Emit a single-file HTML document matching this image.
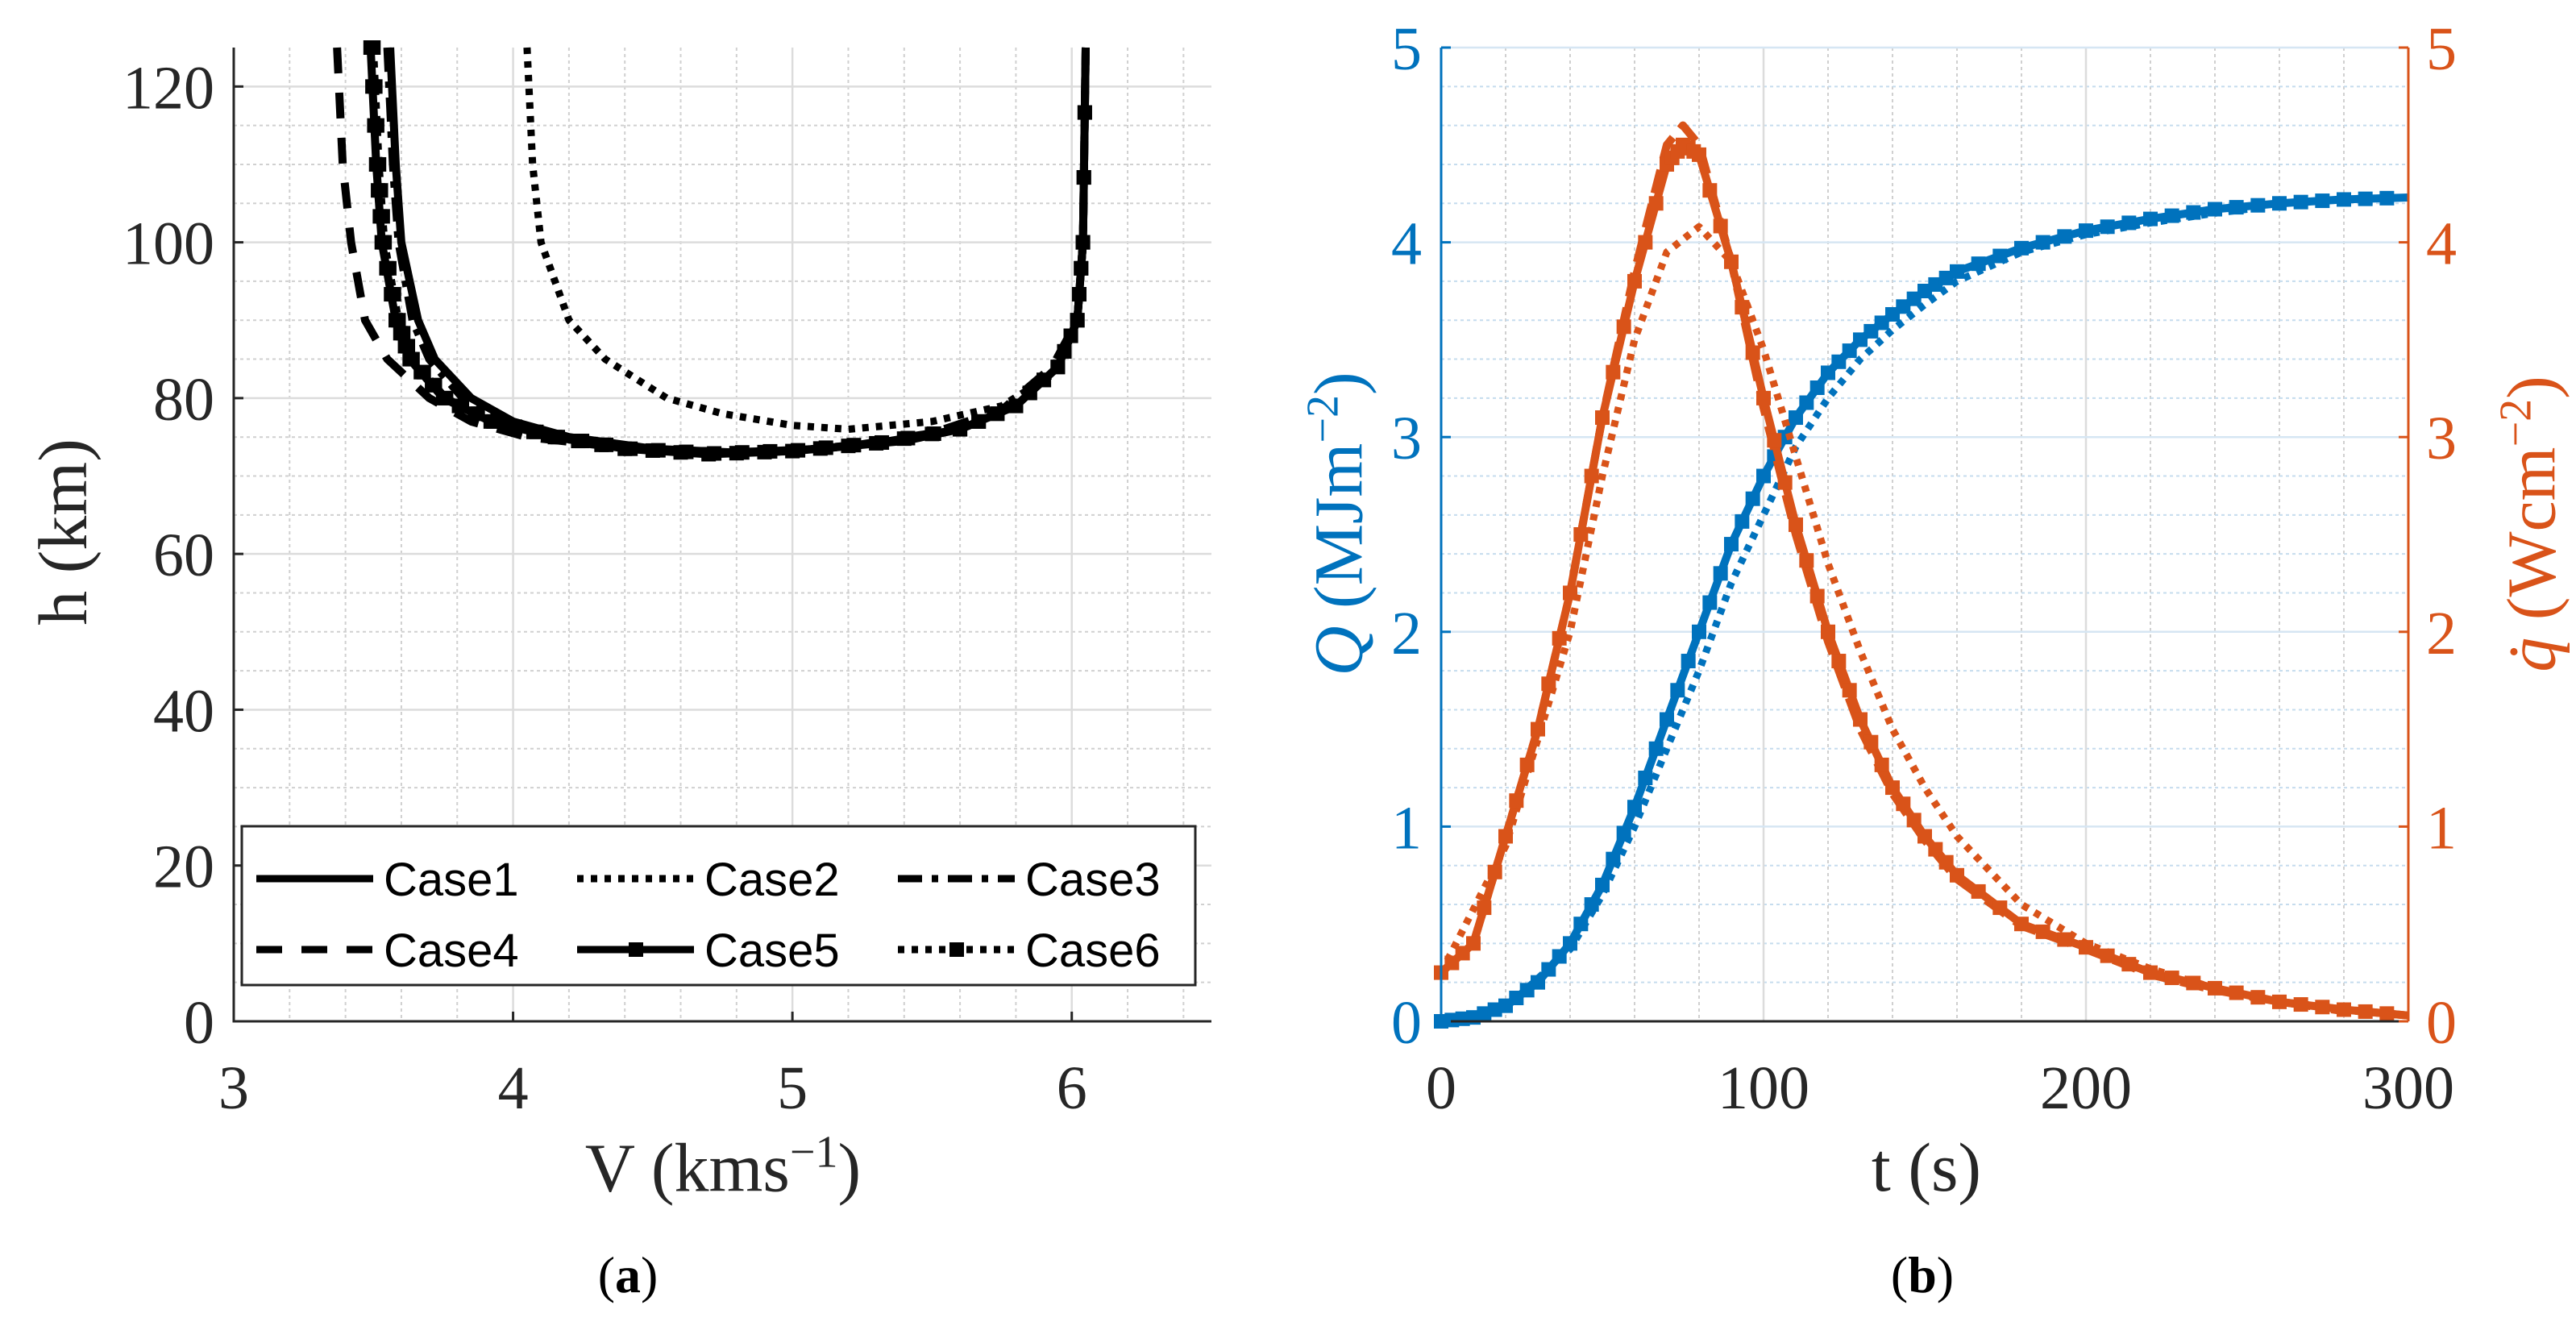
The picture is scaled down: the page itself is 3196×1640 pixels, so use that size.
<!DOCTYPE html>
<html><head><meta charset="utf-8"><style>
html,body{margin:0;padding:0;background:#fff}
svg{display:block}
.tick{font-family:"Liberation Serif",serif;font-size:76px}
.leg{font-family:"Liberation Sans",sans-serif;font-size:58px}
</style></head><body>
<svg id="s" width="3196" height="1640" viewBox="0 0 3196 1640" xmlns="http://www.w3.org/2000/svg"></svg>
<script>
// ---- Chart (a) data ----
const c1V=[3.56,3.58,3.6,3.66,3.72,3.85,4.0,4.2,4.5,4.8,5.1,5.4,5.6,5.8,5.95,6.02,6.04,6.05];
const c1H=[125,110,100,90,85,80,77,75,73.5,73,73.5,74.5,76,79,84,90,100,125];
const c5V=[3.49,3.51,3.53,3.58,3.63,3.75,3.92,4.15,4.4,4.7,5.0,5.3,5.6,5.8,5.95,6.02,6.04,6.05];
const c5H=[125,110,100,90,85,80,77,75,73.5,72.8,73.2,74.2,76,79,84,90,100,125];
const c3V=[3.55,3.57,3.59,3.64,3.7,3.82,3.98,4.18,4.45,4.75,5.05,5.35,5.6,5.8,5.95,6.02,6.04,6.05];
const c3H=[125,110,100,90,85,80,77,75,73.6,73,73.4,74.4,76,79,84,90,100,125];
const c4V=[3.37,3.39,3.42,3.47,3.55,3.7,3.85,4.05,4.3,4.6,4.9,5.2,5.5,5.75,5.93,6.02,6.04,6.05];
const c4H=[125,110,100,90,85,80,77,75,74,73,73,73.8,75.5,78.5,84,90,100,125];
const c2V=[4.05,4.07,4.1,4.2,4.33,4.55,4.75,5.0,5.2,5.5,5.75,5.93,6.02,6.04,6.05];
const c2H=[125,110,100,90,85,80,78,76.5,76,77,79,83,90,100,125];
const c6V=[3.5,3.52,3.54,3.59,3.64,3.76,3.93,4.16,4.42,4.72,5.02,5.32,5.6,5.8,5.95,6.02,6.04,6.05];
const c6H=[125,110,100,90,85,80,77,75,73.5,72.9,73.3,74.3,76,79,84,90,100,125];
const aXTicks=[3,4,5,6];
const aYTicks=[0,20,40,60,80,100,120];
// ---- Chart (b) data ----
const tQ1=[0,10,20,30,40,50,60,70,80,90,100,110,120,130,140,150,160,180,200,220,240,260,280,300];
const Q1=[0,0.02,0.08,0.2,0.4,0.7,1.1,1.55,2.0,2.45,2.8,3.1,3.33,3.5,3.63,3.75,3.85,3.97,4.06,4.12,4.17,4.2,4.22,4.23];
const tQ2=[0,20,40,50,60,70,80,90,100,110,120,130,140,150,160,180,200,220,240,250];
const Q2=[0,0.07,0.37,0.65,1.0,1.4,1.8,2.25,2.6,2.95,3.2,3.4,3.55,3.68,3.8,3.95,4.04,4.1,4.15,4.17];
const tq1=[0,10,20,30,40,50,60,70,75,80,90,100,110,120,130,140,150,160,180,200,220,240,260,280,300];
const q1=[0.25,0.4,0.95,1.5,2.2,3.1,3.8,4.4,4.5,4.45,3.9,3.2,2.55,2.0,1.55,1.2,0.95,0.75,0.5,0.38,0.25,0.17,0.1,0.06,0.03];
const q3=[0.25,0.4,0.95,1.5,2.2,3.1,3.85,4.5,4.6,4.5,3.9,3.15,2.5,1.95,1.5,1.17,0.93,0.73,0.49,0.37,0.24,0.16,0.1,0.06,0.03];
const tq2=[0,20,40,50,60,70,80,90,100,110,120,130,140,150,160,180,200,220,240,260,280];
const q2=[0.25,0.9,2.0,2.8,3.5,3.95,4.08,3.9,3.45,2.9,2.35,1.9,1.5,1.2,0.95,0.6,0.4,0.27,0.17,0.1,0.05];
const bXTicks=[0,100,200,300];
const bYTicks=[0,1,2,3,4,5];

const NS="http://www.w3.org/2000/svg";
const svg=document.getElementById('s');
function mk(tag,at,parent){const e=document.createElementNS(NS,tag);for(const k in at)e.setAttribute(k,at[k]);(parent||svg).appendChild(e);return e;}
const BLUE="#0072BD",ORANGE="#D95319",GRID="#d0d0d0";

const A={x0:290,x1:1503,y0:1267,y1:59};
const ax=v=>A.x0+(v-3)/(6.5-3)*(A.x1-A.x0);
const ay=v=>A.y0-v/125*(A.y0-A.y1);
const B={x0:1788,x1:2988,y0:1267,y1:59};
const bx=v=>B.x0+v/300*(B.x1-B.x0);
const by=v=>B.y0-v/5*(B.y0-B.y1);

let g=mk('g',{});


for(let v=3.2;v<6.5;v+=0.2){if(Math.abs(v-Math.round(v))<1e-6)continue;mk('line',{x1:ax(v),x2:ax(v),y1:A.y1,y2:A.y0,stroke:GRID,'stroke-width':2,'stroke-dasharray':'4 4'},g);}
for(let v=5;v<125;v+=5){if(v%20===0)continue;mk('line',{x1:A.x0,x2:A.x1,y1:ay(v),y2:ay(v),stroke:GRID,'stroke-width':2,'stroke-dasharray':'4 4'},g);}
aXTicks.forEach(v=>mk('line',{x1:ax(v),x2:ax(v),y1:A.y1,y2:A.y0,stroke:'#dcdcdc','stroke-width':2.5},g));
aYTicks.forEach(v=>mk('line',{x1:A.x0,x2:A.x1,y1:ay(v),y2:ay(v),stroke:'#dcdcdc','stroke-width':2.5},g));
let g2=mk('g',{});


for(let v=20;v<300;v+=20){if(v%100===0)continue;mk('line',{x1:bx(v),x2:bx(v),y1:B.y1,y2:B.y0,stroke:GRID,'stroke-width':2,'stroke-dasharray':'4 4'},g2);}
for(let v=0.2;v<5;v+=0.2){if(Math.abs(v-Math.round(v))<1e-6)continue;mk('line',{x1:B.x0,x2:B.x1,y1:by(v),y2:by(v),stroke:'#c5dcee','stroke-width':2,'stroke-dasharray':'4 4'},g2);}
bXTicks.forEach(v=>mk('line',{x1:bx(v),x2:bx(v),y1:B.y1,y2:B.y0,stroke:'#dcdcdc','stroke-width':2.5},g2));
bYTicks.forEach(v=>mk('line',{x1:B.x0,x2:B.x1,y1:by(v),y2:by(v),stroke:'#d6e6f3','stroke-width':2.5},g2));

function path(xs,ys,fx,fy){return xs.map((x,i)=>(i?'L':'M')+fx(x).toFixed(1)+' '+fy(ys[i]).toFixed(1)).join(' ');}
function series(name,xs,ys,fx,fy,color,w,dash,markers){
  const gg=mk('g',{});
  
  
  const p=mk('path',{d:path(xs,ys,fx,fy),fill:'none',stroke:color,'stroke-width':w,'stroke-linejoin':'round'},gg);
  if(dash)p.setAttribute('stroke-dasharray',dash);
  if(markers){
    for(let i=0;i<xs.length-1;i++){for(let k=0;k<3;k++){const t=k/3;const X=fx(xs[i])+(fx(xs[i+1])-fx(xs[i]))*t,Y=fy(ys[i])+(fy(ys[i+1])-fy(ys[i]))*t;
      mk('rect',{x:X-9,y:Y-9,width:18,height:18,fill:color},gg);}}
  }
  return gg;
}
series('case4-line',c4V,c4H,ax,ay,'#000',10,'32 24',false);
series('case2-line',c2V,c2H,ax,ay,'#000',9,'8 9',false);
series('case3-line',c3V,c3H,ax,ay,'#000',10,'30 12 8 12',false);
series('case1-line',c1V,c1H,ax,ay,'#000',10,null,false);
series('case6-line',c6V,c6H,ax,ay,'#000',9,'8 9',true);
series('case5-line',c5V,c5H,ax,ay,'#000',10,null,true);
series('Q-dotted-line',tQ2,Q2,bx,by,BLUE,9,'8 9',false);
series('Q-solid-line',tQ1,Q1,bx,by,BLUE,10,null,true);
series('qdot-dotted-line',tq2,q2,bx,by,ORANGE,9,'8 9',false);
series('qdot-dashed-line',tq1,q3,bx,by,ORANGE,10,'30 14',false);
series('qdot-solid-line',tq1,q1,bx,by,ORANGE,10,null,true);

let axg=mk('g',{});


mk('path',{d:`M${A.x0} ${A.y1} V${A.y0} H${A.x1}`,fill:'none',stroke:'#262626','stroke-width':3},axg);
aXTicks.forEach(v=>{mk('line',{x1:ax(v),x2:ax(v),y1:A.y0,y2:A.y0-12,stroke:'#262626','stroke-width':3},axg);
  const t=mk('text',{x:ax(v),y:A.y0+108,'text-anchor':'middle',class:'tick',fill:'#262626'},axg);t.textContent=v;});
aYTicks.forEach(v=>{mk('line',{x1:A.x0,x2:A.x0+12,y1:ay(v),y2:ay(v),stroke:'#262626','stroke-width':3},axg);
  const t=mk('text',{x:A.x0-24,y:ay(v)+27,'text-anchor':'end',class:'tick',fill:'#262626'},axg);t.textContent=v;});

let bxg=mk('g',{});


mk('line',{x1:B.x0,x2:B.x1,y1:B.y0,y2:B.y0,stroke:'#262626','stroke-width':3},bxg);
mk('line',{x1:B.x0,x2:B.x0,y1:B.y1,y2:B.y0,stroke:BLUE,'stroke-width':3},bxg);
mk('line',{x1:B.x1,x2:B.x1,y1:B.y1,y2:B.y0,stroke:ORANGE,'stroke-width':3},bxg);
bXTicks.forEach(v=>{const t=mk('text',{x:bx(v),y:B.y0+108,'text-anchor':'middle',class:'tick',fill:'#262626'},bxg);t.textContent=v;});
bYTicks.forEach(v=>{mk('line',{x1:B.x0,x2:B.x0+12,y1:by(v),y2:by(v),stroke:BLUE,'stroke-width':3},bxg);
  mk('line',{x1:B.x1,x2:B.x1-12,y1:by(v),y2:by(v),stroke:ORANGE,'stroke-width':3},bxg);
  let t=mk('text',{x:B.x0-24,y:by(v)+27,'text-anchor':'end',class:'tick',fill:BLUE},bxg);t.textContent=v;
  t=mk('text',{x:B.x1+22,y:by(v)+27,'text-anchor':'start',class:'tick',fill:ORANGE},bxg);t.textContent=v;});

const legCase=[['Case1',null,false],['Case2','8 9',false],['Case3','30 12 8 12',false],['Case4','32 24',false],['Case5',null,true],['Case6','8 9',true]];
let lg=mk('g',{});


mk('rect',{x:300,y:1025,width:1183,height:197,fill:'#fff',stroke:'#262626','stroke-width':3},lg);
legCase.forEach((c,i)=>{const col=i%3,row=Math.floor(i/3);const x=318+col*398,y=1090+row*88;
  const e=mk('g',{},lg);
  
  
  const l=mk('line',{x1:x,x2:x+145,y1:y,y2:y,stroke:'#000','stroke-width':9},e);
  if(c[1])l.setAttribute('stroke-dasharray',c[1]);
  if(c[2])mk('rect',{x:x+64,y:y-9,width:18,height:18,fill:'#000'},e);
  const t=mk('text',{x:x+158,y:y+21,class:'leg',fill:'#000'},e);t.textContent=c[0];});
</script>
<div style="position:absolute;left:0;top:0;width:3196px;height:1640px;pointer-events:none">
<div style="position:absolute;left:78px;top:660px;transform:translate(-50%,-50%) rotate(-90deg);white-space:nowrap;color:#262626;font-family:'Liberation Serif',serif;font-size:86px">h (km)</div>
<div style="position:absolute;left:897px;top:1448px;transform:translate(-50%,-50%);white-space:nowrap;color:#262626;font-family:'Liberation Serif',serif;font-size:86px">V (kms<sup style="font-size:56px">−1</sup>)</div>
<div style="position:absolute;left:779px;top:1582px;transform:translate(-50%,-50%);color:#000;font-family:'Liberation Serif',serif;font-size:64px">(<b>a</b>)</div>
<div style="position:absolute;left:1660px;top:650px;transform:translate(-50%,-50%) rotate(-90deg);white-space:nowrap;color:#0072BD;font-family:'Liberation Serif',serif;font-size:86px"><i>Q</i> (MJm<sup style="font-size:56px">−2</sup>)</div>
<div style="position:absolute;left:3140px;top:650px;transform:translate(-50%,-50%) rotate(-90deg);white-space:nowrap;color:#D95319;font-family:'Liberation Serif',serif;font-size:86px"><i>q̇</i> (Wcm<sup style="font-size:56px">−2</sup>)</div>
<div style="position:absolute;left:2390px;top:1448px;transform:translate(-50%,-50%);white-space:nowrap;color:#262626;font-family:'Liberation Serif',serif;font-size:86px">t (s)</div>
<div style="position:absolute;left:2385px;top:1582px;transform:translate(-50%,-50%);color:#000;font-family:'Liberation Serif',serif;font-size:64px">(<b>b</b>)</div>
</div>
</body></html>
